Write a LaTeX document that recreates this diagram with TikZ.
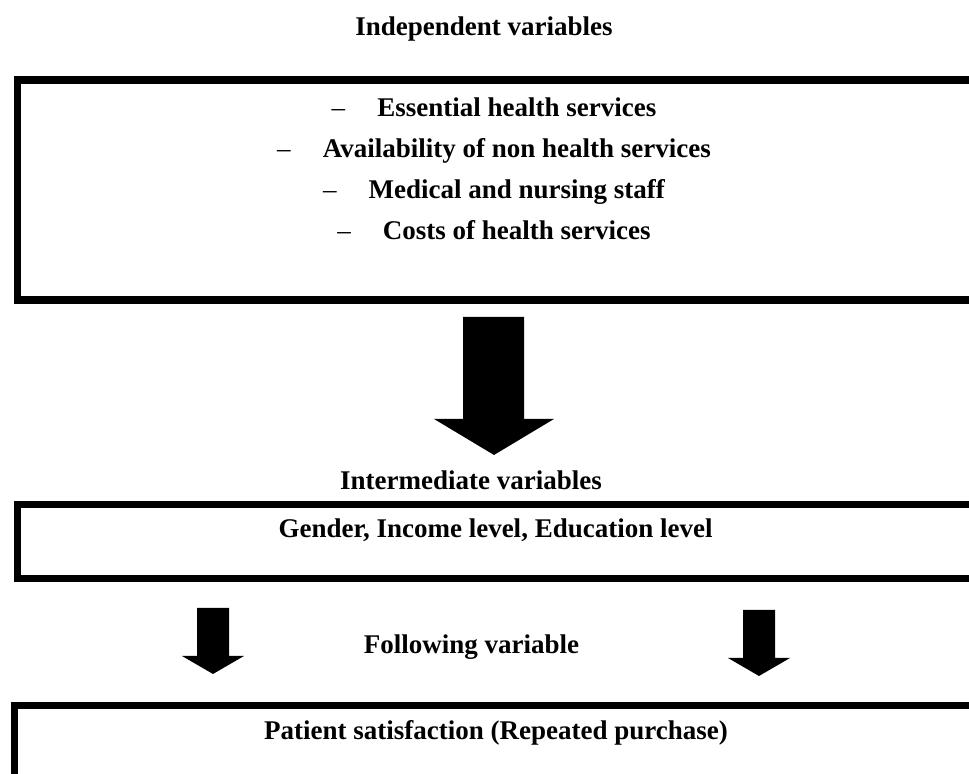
\documentclass[tikz,border=0pt]{standalone}
\usepackage{fontspec}
\setmainfont{Liberation Serif}
\usetikzlibrary{positioning}

\begin{document}
\begin{tikzpicture}[
		x=0.5pt, y=0.5pt,
		every node/.style={font=\fontsize{13.5}{16}\selectfont\bfseries, inner sep=0pt},
		lbl/.style={anchor=base},
		panel/.style={draw, line width=3.75pt, anchor=north west, minimum width=500pt}
	]
	\useasboundingbox (0,0) rectangle (969,774);
	\clip (0,0) rectangle (969,774);

	% independent variables
	\node[lbl] (title) at (484,738) {Independent variables};
	\node[panel, minimum height=110pt] (indep) at (13.5,697.5) {};
	\foreach \txt [count=\i] in {Essential health services,
		Availability of non health services,
		Medical and nursing staff,
		Costs of health services}
		\node[lbl] (item\i) at (494,698-41*\i) {\textmd{--}\hspace{16pt}\txt};

	% big arrow
	\coordinate (bigtip) at (494,319);
	\fill (bigtip) -- ++(-60,36) -- ++(29,0) -- ++(0,102) -- ++(61,0) -- ++(0,-102) -- ++(30,0) -- cycle;

	% intermediate variables
	\node[lbl] (intertitle) at (471,284) {Intermediate variables};
	\node[panel, minimum height=37pt] (inter) at (13.5,273) {};
	\node[lbl] (intertext) at (495.5,236) {Gender, Income level, Education level};

	% two small arrows
	\foreach \n/\x/\y in {left/213/100, right/759/98} {
		\coordinate (\n tip) at (\x,\y);
		\fill (\n tip) -- ++(-31,18) -- ++(15,0) -- ++(0,48) -- ++(32,0) -- ++(0,-48) -- ++(15,0) -- cycle;
	}
	\node[lbl] (follow) at (471.5,120) {Following variable};

	% following variable
	\node[panel, minimum height=56pt] (outcome) at (10.5,72) {};
	\node[lbl] (outtext) at (496,34) {Patient satisfaction (Repeated purchase)};

\end{tikzpicture}
\end{document}
